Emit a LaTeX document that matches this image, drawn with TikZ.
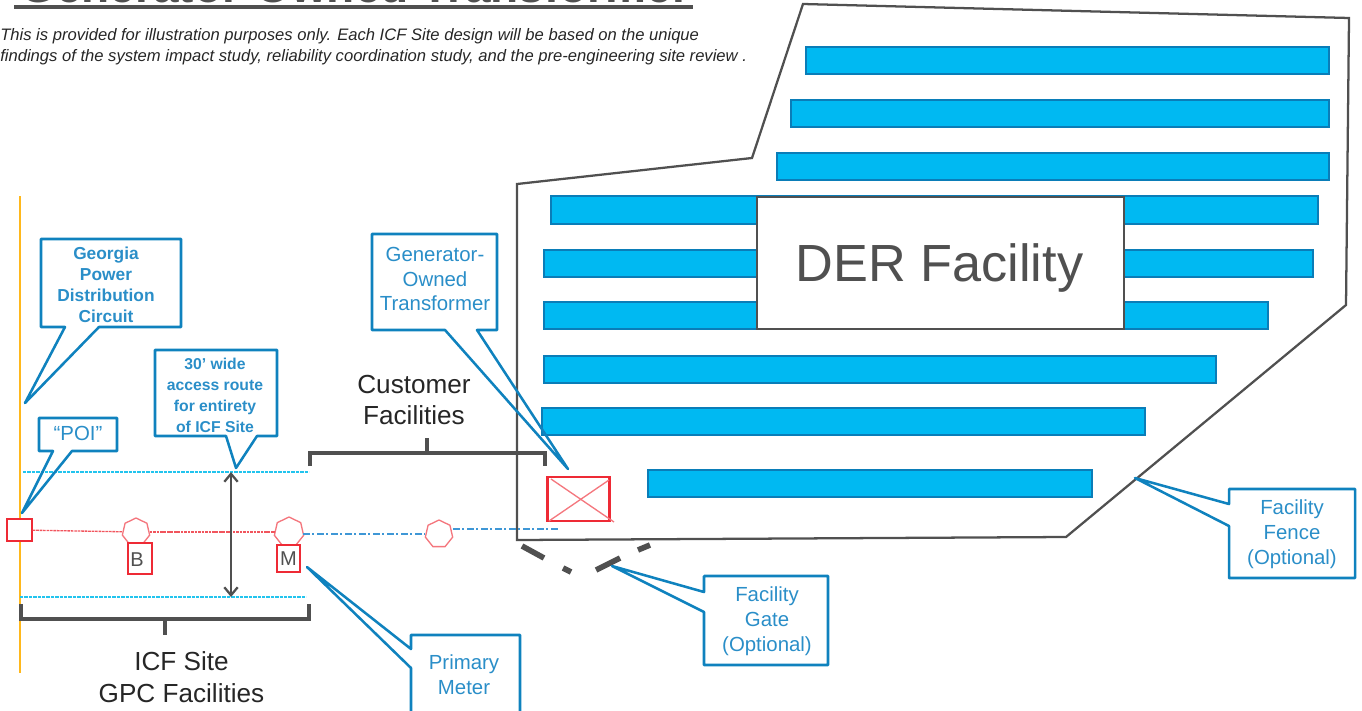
\documentclass[tikz,border=0pt]{standalone}
\usepackage{fontspec}
\setmainfont{Liberation Sans}
\usetikzlibrary{shapes.geometric,arrows.meta}
\definecolor{cblue}{HTML}{0F82BE}
\definecolor{ctext}{HTML}{2A8EC8}
\definecolor{barfill}{HTML}{00B9F2}
\definecolor{barline}{HTML}{0A7DB8}
\definecolor{dgray}{HTML}{505050}
\definecolor{cred}{HTML}{EE2A35}
\definecolor{lred}{HTML}{F4777E}
\definecolor{cyanl}{HTML}{22C4EE}
\definecolor{dashblue}{HTML}{3E97D6}
\definecolor{yell}{HTML}{FFB81C}
\tikzset{
  px/.style={x=0.75pt,y=-0.75pt},
  callout/.style={draw=cblue,line width=1.9pt,line join=round},
  bar/.style={draw=barline,fill=barfill,line width=1.3pt},
  fence/.style={draw=dgray,line width=1.7pt,line join=miter},
  bracket/.style={draw=dgray,line width=2.8pt},
  gate/.style={draw=dgray,line width=4.2pt},
  ctxt/.style={text=ctext,align=center,inner sep=0pt,font=\fontsize{15.3}{18.7}\selectfont},
  btxt/.style={text=ctext,align=center,inner sep=0pt,font=\fontsize{11.8}{15.8}\selectfont\bfseries},
  ktxt/.style={text=black!85,align=center,inner sep=0pt,font=\fontsize{19.6}{23.5}\selectfont},
  oct/.style={regular polygon,regular polygon sides=7,draw=lred,line width=1pt,fill=white,inner sep=0pt,minimum size=28*0.75pt},
  redbox/.style={draw=cred,line width=1pt,fill=white},
  cyanline/.style={draw=cyanl,line width=1pt,dash pattern=on 2.5pt off 0.8pt},
  redline/.style={draw=cred!80,line width=1pt,dash pattern=on 2pt off 0.6pt},
  blueline/.style={draw=dashblue,line width=1pt,dash pattern=on 5pt off 2pt on 1.5pt off 2pt},
  notetxt/.style={anchor=base west,inner sep=0pt,text=black!85,font=\fontsize{12.45}{15}\selectfont\itshape},
  lettertxt/.style={text=dgray,inner sep=0pt,font=\fontsize{15}{18}\selectfont},
}
\begin{document}
\begin{tikzpicture}[px]
\useasboundingbox (0,0) rectangle (1362,710);
% clipped title
\begin{scope}
\clip (0,0) rectangle (1362,710);
\node[anchor=base west,inner sep=0pt,text=dgray,font=\fontsize{34.5}{38}\selectfont\bfseries] (title) at (20,3) {Generator-Owned Transformer};
\draw[draw=dgray,line width=3pt] (14,7) -- (693,7);
\end{scope}
\node[notetxt] (note1) at (0,41) {This is provided for illustration purposes only. Each ICF Site design will be based on the unique};
\node[notetxt] (note2) at (0,61) {findings of the system impact study, reliability coordination study, and the pre-engineering site review .};
% fence
\draw[fence] (803,4) -- (1349,18) -- (1346,305) -- (1066,537) -- (517,540) -- (517,184) -- (752,158) -- cycle;
% bars
\foreach \xa/\xb/\ya/\yb in {806/1329/47/74,791/1329/100/127,777/1329/153/180,551/1318/196/224,544/1313/250/277,544/1268/302/329,544/1216/356/383,542/1145/408/435,648/1092/470/497}
  \draw[bar] (\xa,\ya) rectangle (\xb,\yb);
\node[draw=dgray,line width=1.7pt,fill=white,minimum width=367*0.75pt,minimum height=132*0.75pt,inner sep=0pt] (der) at (940.5,263) {};
\node[inner sep=0pt,text=dgray,font=\fontsize{39.2}{44}\selectfont] (dertext) at (939.5,268) {DER Facility};
% yellow circuit
\coordinate (ytop) at (20,196);
\coordinate (ybot) at (20,673);
\draw[draw=yell,line width=2.2pt] (ytop) -- (ybot);
% cyan limits
\coordinate (c1a) at (23,472);
\coordinate (c1b) at (309,472);
\coordinate (c2a) at (20,597);
\coordinate (c2b) at (306,597);
\draw[cyanline] (c1a) -- (c1b);
\draw[cyanline] (c2a) -- (c2b);
% POI, meters, line
\node[redbox,minimum width=25*0.75pt,minimum height=22*0.75pt,inner sep=0pt] (poi) at (19.5,530) {};
\node[oct] (obreak) at (136,532) {};
\node[oct,minimum size=30*0.75pt] (ometer) at (289,532) {};
\node[oct] (ocust) at (439,534) {};
\coordinate (mout) at (303,534);
\coordinate (cout) at (453,529);
\coordinate (bend) at (559,529);
\draw[redline] (poi) -- (obreak);
\draw[redline] (obreak) -- (ometer);
\draw[blueline] (mout) -- (ocust.west);
\draw[blueline] (cout) -- (bend);
\node[redbox,minimum width=24*0.75pt,minimum height=31*0.75pt,inner sep=0pt] (bbox) at (140,558.5) {};
\node[lettertxt] (btext) at (137,560) {B};
\node[redbox,minimum width=23*0.75pt,minimum height=27*0.75pt,inner sep=0pt,text=dgray,font=\fontsize{15}{18}\selectfont] (mbox) at (288.5,558.5) {M};
% arrow
\coordinate (aup) at (231,472);
\coordinate (adn) at (231,597);
\draw[draw=dgray,line width=1.7pt,{Straight Barb[length=6pt,width=10pt]}-{Straight Barb[length=6pt,width=10pt]}] (aup) -- (adn);
% brackets
\draw[bracket] (21,604) -- (21,619) -- (309,619) -- (309,604);
\draw[bracket] (165,619) -- (165,635);
\draw[bracket] (310,466) -- (310,453) -- (545,453) -- (545,466);
\draw[bracket] (427,453) -- (427,438);
% transformer
\node[draw=cred,line width=1.8pt,minimum width=62*0.75pt,minimum height=44*0.75pt,inner sep=0pt] (xf) at (578.5,499) {};
\draw[draw=lred,line width=1pt] (551,479) -- (614,522);
\draw[draw=lred,line width=1pt] (549,521) -- (609,480);
% gate
\draw[gate] (522,546) -- (544,558);
\draw[gate] (563,568) -- (571,572);
\draw[gate] (596,570) -- (620,558);
\draw[gate] (638,550) -- (650,545);
% callouts
\draw[callout] (41,239) -- (181,239) -- (181,327) -- (99,327) -- (25,403) -- (65,327) -- (41,327) -- cycle;
\draw[callout] (155,350) -- (277,350) -- (277,436) -- (257,436) -- (236,468) -- (226,436) -- (155,436) -- cycle;
\draw[callout] (39,418) -- (117,418) -- (117,451) -- (72,451) -- (22,513) -- (53,451) -- (39,451) -- cycle;
\draw[callout] (372,234) -- (497,234) -- (497,330) -- (477,330) -- (568,469) -- (445,330) -- (372,330) -- cycle;
\draw[callout] (1229,489) -- (1355,489) -- (1355,578) -- (1229,578) -- (1229,526) -- (1135,478) -- (1229,504) -- cycle;
\draw[callout] (704,576) -- (828,576) -- (828,665) -- (704,665) -- (704,612) -- (612,566) -- (704,592) -- cycle;
\draw[callout] (411,635) -- (520,635) -- (520,716) -- (411,716) -- (411,668) -- (307,567) -- (411,649) -- cycle;
% texts
\node[btxt,font=\fontsize{13}{15.8}\selectfont\bfseries] (t1) at (106,284.5) {Georgia\\Power\\Distribution\\Circuit};
\node[btxt] (t2) at (215,395) {30’ wide\\access route\\for entirety\\of ICF Site};
\node[ctxt] (t3) at (78,433) {“POI”};
\node[ctxt] (t4) at (435,279) {Generator-\\Owned\\Transformer};
\node[ctxt] (t5) at (1292,534) {Facility\\Fence\\(Optional)};
\node[ctxt] (t6) at (767,621.5) {Facility\\Gate\\(Optional)};
\node[ctxt] (t7) at (464,675) {Primary\\Meter};
\node[ktxt] (t8) at (414,400) {Customer\\Facilities};
\node[ktxt,font=\fontsize{19.6}{24.5}\selectfont] (t9) at (181.5,677) {ICF Site\\GPC Facilities};
\end{tikzpicture}
\end{document}
